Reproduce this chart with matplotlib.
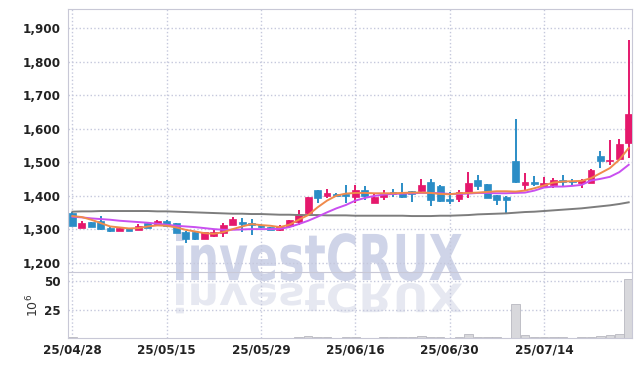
import matplotlib.pyplot as plt
from matplotlib.textpath import TextPath
from matplotlib.patches import PathPatch
from matplotlib.font_manager import FontProperties, fontManager
from matplotlib.transforms import Affine2D
from matplotlib.ticker import StrMethodFormatter

# trading days (yy/mm/dd)
dates = ["25/04/28", "25/04/29", "25/04/30", "25/05/02", "25/05/07", "25/05/08", "25/05/09", "25/05/12",
         "25/05/13", "25/05/14", "25/05/15", "25/05/16", "25/05/19", "25/05/20", "25/05/21", "25/05/22",
         "25/05/23", "25/05/26", "25/05/27", "25/05/28", "25/05/29", "25/05/30", "25/06/02", "25/06/04",
         "25/06/05", "25/06/09", "25/06/10", "25/06/11", "25/06/12", "25/06/13", "25/06/16", "25/06/17",
         "25/06/18", "25/06/19", "25/06/20", "25/06/23", "25/06/24", "25/06/25", "25/06/26", "25/06/27",
         "25/06/30", "25/07/01", "25/07/02", "25/07/03", "25/07/04", "25/07/07", "25/07/08", "25/07/09",
         "25/07/10", "25/07/11", "25/07/14", "25/07/15", "25/07/16", "25/07/17", "25/07/18", "25/07/21",
         "25/07/22", "25/07/23", "25/07/24", "25/07/25"]

opens = [1347, 1304, 1321, 1325, 1303, 1295, 1302, 1298, 1318, 1313,
         1325, 1318, 1292, 1291, 1271, 1280, 1288, 1312, 1320, 1317,
         1313, 1305, 1296, 1308, 1322, 1348, 1417, 1400, 1405, 1405,
         1397, 1417, 1379, 1395, 1410, 1409, 1414, 1415, 1440, 1430,
         1390, 1390, 1412, 1447, 1435, 1402, 1397, 1502, 1433, 1441,
         1427, 1432, 1447, 1443, 1439, 1439, 1519, 1504, 1509, 1558]
highs = [1350, 1325, 1322, 1339, 1305, 1304, 1303, 1316, 1319, 1327,
         1326, 1319, 1293, 1292, 1292, 1297, 1318, 1336, 1334, 1330,
         1316, 1307, 1313, 1328, 1357, 1397, 1418, 1419, 1408, 1432,
         1432, 1430, 1409, 1417, 1419, 1439, 1415, 1449, 1449, 1432,
         1412, 1417, 1470, 1462, 1436, 1403, 1398, 1628, 1467, 1459,
         1455, 1452, 1462, 1449, 1449, 1480, 1532, 1567, 1569, 1863]
lows = [1308, 1302, 1305, 1298, 1290, 1294, 1293, 1296, 1303, 1311,
        1306, 1287, 1259, 1268, 1270, 1276, 1276, 1311, 1291, 1283,
        1304, 1296, 1293, 1303, 1313, 1346, 1377, 1392, 1398, 1377,
        1377, 1387, 1377, 1387, 1395, 1392, 1380, 1407, 1370, 1382,
        1375, 1382, 1392, 1417, 1393, 1372, 1345, 1437, 1415, 1429,
        1422, 1422, 1430, 1429, 1422, 1437, 1482, 1492, 1506, 1512]
closes = [1310, 1318, 1307, 1300, 1295, 1302, 1294, 1310, 1304, 1325,
          1308, 1289, 1271, 1271, 1291, 1290, 1312, 1330, 1315, 1313,
          1306, 1298, 1308, 1326, 1345, 1395, 1392, 1407, 1400, 1400,
          1417, 1400, 1395, 1407, 1404, 1397, 1405, 1432, 1387, 1384,
          1384, 1412, 1439, 1430, 1394, 1387, 1387, 1442, 1441, 1436,
          1439, 1447, 1440, 1440, 1447, 1477, 1502, 1507, 1555, 1643]

# moving averages as shown on the chart
ma5 = [1339, 1336, 1328, 1318, 1308, 1305, 1302, 1303, 1308, 1311,
       1310, 1305, 1298, 1293, 1288, 1286, 1291, 1300, 1308, 1315,
       1312, 1310, 1306, 1313, 1328, 1342, 1365, 1385, 1400, 1406,
       1408, 1408, 1407, 1407, 1407, 1408, 1409, 1409, 1408, 1405,
       1404, 1407, 1408, 1409, 1411, 1413, 1413, 1412, 1415, 1422,
       1430, 1439, 1442, 1443, 1444, 1452, 1467, 1482, 1507, 1542]
ma20 = [1337, 1335, 1332, 1330, 1328, 1325, 1323, 1321, 1319, 1316,
        1313, 1310, 1308, 1306, 1303, 1300, 1298, 1298, 1299, 1300,
        1300, 1300, 1301, 1306, 1315, 1325, 1337, 1350, 1362, 1372,
        1385, 1393, 1399, 1403, 1405, 1406, 1407, 1408, 1408, 1407,
        1405, 1405, 1406, 1408, 1408, 1407, 1407, 1408, 1409, 1415,
        1424, 1427, 1427, 1429, 1432, 1445, 1450, 1456, 1470, 1492]
ma120 = [1352, 1353, 1353, 1354, 1354, 1354, 1354, 1354, 1354, 1353,
         1353, 1352, 1351, 1350, 1349, 1348, 1347, 1346, 1346, 1345,
         1345, 1344, 1343, 1343, 1342, 1342, 1342, 1341, 1341, 1341,
         1340, 1340, 1340, 1340, 1340, 1340, 1339, 1339, 1339, 1340,
         1340, 1341, 1342, 1344, 1345, 1346, 1347, 1349, 1351, 1352,
         1354, 1356, 1358, 1360, 1362, 1365, 1368, 1371, 1375, 1380]

# volume, 10^6 shares
volume = [1.2, 0.3, 0.3, 0.3, 0.3, 0.3, 0.3, 0.3, 0.3, 0.3,
          0.3, 0.3, 0.3, 0.3, 0.3, 0.3, 0.3, 0.3, 0.3, 0.3,
          0.3, 0.3, 0.3, 0.4, 0.5, 2.0, 1.0, 0.5, 0.4, 0.8,
          0.8, 0.4, 0.4, 0.8, 0.8, 0.8, 0.8, 1.7, 0.9, 0.9,
          0.4, 0.8, 3.4, 1.0, 0.8, 0.8, 0.4, 30.0, 2.8, 0.8,
          0.8, 0.8, 0.8, 0.4, 0.8, 0.8, 2.0, 2.2, 3.2, 52.0]

tick_idx = [0, 10, 20, 30, 40, 50]

UP = "#e5186c"
DOWN = "#2b8dc6"
GRID = "#c5c8dc"

# narrow font for the tick labels, whatever is around
names = {f.name for f in fontManager.ttflist}
condensed = [f for f in fontManager.ttflist if f.name == "DejaVu Sans" and "ondensed" in str(f.stretch) + f.fname]
if "Liberation Sans Narrow" in names:
    tick_font = dict(family="Liberation Sans Narrow", weight="bold", size=10.5)
elif condensed:
    tick_font = dict(family="DejaVu Sans", stretch="condensed", weight="bold", size=9.5)
else:
    tick_font = dict(family="Roboto", weight="bold", size=9.5)

fig = plt.figure(figsize=(6.42, 3.66), dpi=100)
ax = fig.add_axes([68 / 642, 1 - 272 / 366, 564 / 642, 263 / 366])
axv = fig.add_axes([68 / 642, 1 - 338 / 366, 564 / 642, 66 / 366], sharex=ax)
for a in (ax, axv):
    a.set_facecolor("none")

# watermark + reflection
tp = TextPath((0, 0), "investCRUX", size=100, prop=FontProperties(family="DejaVu Sans", weight="bold"))
bb = tp.get_extents()
sx = (462 - 176) / bb.width / 100
sy = (281 - 232) / bb.height / 100
t_main = Affine2D().translate(-bb.x0, -bb.y0).scale(sx, sy).translate(1.76, (366 - 281) / 100)
t_refl = Affine2D().translate(-bb.x0, -bb.y0).scale(sx, -sy * 0.62).translate(1.76, (366 - 283) / 100)
fig.add_artist(PathPatch(tp, transform=t_main + fig.dpi_scale_trans, color="#cfd4e8", lw=0, zorder=-5))
fig.add_artist(PathPatch(tp, transform=t_refl + fig.dpi_scale_trans, color="#e6e8f1", lw=0, zorder=-6))

x = list(range(len(dates)))
colors = [UP if c >= o else DOWN for o, c in zip(opens, closes)]
bodies = [max(abs(c - o), 1.5) for o, c in zip(opens, closes)]
bottoms = [min(o, c) for o, c in zip(opens, closes)]

ax.vlines(x, lows, highs, colors=colors, linewidth=1.4, zorder=2)
ax.bar(x, bodies, bottom=bottoms, width=0.72, color=colors, edgecolor=colors, linewidth=0.5, zorder=3)

ax.plot(x, ma120, color="#7d7d7d", linewidth=1.4, zorder=4)
ax.plot(x, ma20, color="#c94ff0", linewidth=1.4, zorder=4)
ax.plot(x, ma5, color="#f08a4b", linewidth=1.4, zorder=4)

axv.bar(x, volume, width=0.9, color="#d8d8dc", edgecolor="#b8b8c0", linewidth=0.6, zorder=2)

ax.set_xlim(-0.47, 59.35)
ax.set_ylim(1172, 1957)
axv.set_ylim(0, 58)

ax.set_yticks(range(1200, 2000, 100))
ax.yaxis.set_major_formatter(StrMethodFormatter("{x:,.0f}"))
axv.set_yticks([25, 50])
axv.set_xticks(tick_idx)
axv.set_xticklabels([dates[i] for i in tick_idx])
ax.tick_params(axis="x", labelbottom=False)

for a in (ax, axv):
    a.grid(True, color=GRID, linestyle=":", linewidth=1.0)
    a.set_axisbelow(True)
    a.tick_params(length=0, labelcolor="#222222", pad=5)
    for lab in a.get_xticklabels() + a.get_yticklabels():
        lab.set(**tick_font)
    for s in a.spines.values():
        s.set_color("#c8c8d6")
axv.spines["top"].set_visible(False)
axv.tick_params(axis="x", pad=4)

axv.set_ylabel("$10^6$", fontsize=9, color="#333333", labelpad=2)

fig.savefig("out.png", dpi=100, facecolor="white")
